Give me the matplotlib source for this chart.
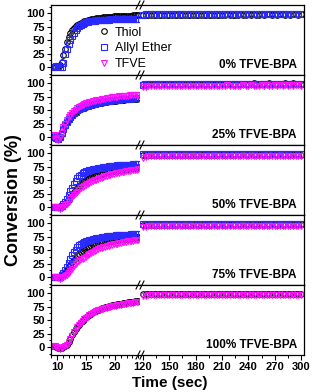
import numpy as np
import matplotlib
matplotlib.use('Agg')
import matplotlib.pyplot as plt
from matplotlib.ticker import MultipleLocator
from matplotlib.lines import Line2D

plt.rcParams['font.family'] = ['Liberation Sans', 'DejaVu Sans']

# time grids (s): early part before the axis break, and the late part after it
t_left = np.round(np.arange(9.3, 24.01, 0.3), 1)
t_right = np.arange(120, 301, 3)

panel_labels = ['0% TFVE-BPA', '25% TFVE-BPA', '50% TFVE-BPA', '75% TFVE-BPA', '100% TFVE-BPA']

# conversion (%), early part
thiol_0 = [0, 0, 0.5, 1, 3, 10, 22, 34, 46, 56,
           63, 69, 73, 76, 78.5, 80.5, 82, 83.5, 85, 86,
           87, 88, 88.8, 89.5, 90, 90.5, 91, 91.5, 92, 92.3,
           92.6, 93, 93.3, 93.5, 93.8, 94, 94.2, 94.4, 94.6, 94.8,
           95, 95.1, 95.3, 95.4, 95.5, 95.7, 95.8, 95.9, 96, 96.1]
allyl_0 = [0, 0.5, 1, 2, 0, -1, 8, 25, 34, 43,
           51, 58, 64, 69, 73, 76, 78.5, 80.5, 82, 83,
           84, 84.8, 85.5, 86, 86.4, 86.8, 87.1, 87.4, 87.6, 87.8,
           88, 88.2, 88.3, 88.5, 88.6, 88.7, 88.8, 88.9, 89, 89.1,
           89.2, 89.3, 89.3, 89.4, 89.4, 89.5, 89.5, 89.5, 89.6, 89.6]

thiol_25 = [0, 1, -2, -4, -1, 6, 15, 21, 27, 32,
            36, 40, 43, 46, 48.5, 50.5, 52, 53.5, 55, 56,
            57, 58, 59, 60, 61, 61.8, 62.5, 63.2, 63.8, 64.4,
            65, 65.5, 66, 66.5, 67, 67.4, 67.8, 68.2, 68.6, 69,
            69.3, 69.6, 69.9, 70.2, 70.5, 70.8, 71, 71.2, 71.4, 71.6]
allyl_25 = [0.5, 1.5, -1.5, -3.5, -0.5, 6.5, 15.5, 22, 28, 33,
            37, 41, 44, 47, 49.5, 51.5, 53, 54.5, 56, 57,
            58, 59, 60, 61, 62, 62.8, 63.5, 64.2, 64.8, 65.4,
            66, 66.5, 67, 67.5, 68, 68.4, 68.8, 69.2, 69.6, 70,
            70.3, 70.6, 70.9, 71.2, 71.5, 71.8, 72, 72.2, 72.4, 72.6]
tfve_25 = [2, 3, -3, -5, -2, 8, 18.5, 25, 31, 37,
           41, 45, 48, 51, 53.5, 55.5, 57.5, 59, 61, 62.5,
           63.5, 64.5, 65.5, 66.5, 67.3, 68, 68.7, 69.3, 70, 70.7,
           71.3, 72, 72.5, 73, 73.5, 74, 74.5, 75, 75.3, 75.7,
           76, 76.4, 76.7, 77, 77.3, 77.6, 77.8, 78, 78.3, 78.5]

thiol_50 = [0, 0, 0, -1, -1, 1, 3, 6, 9, 13,
            18, 22.5, 27, 31, 35, 38.5, 42, 45.5, 48, 50,
            52, 53.5, 55, 56.5, 58, 59, 60, 61, 62, 63,
            63.8, 64.6, 65.3, 66, 66.7, 67.3, 67.9, 68.5, 69, 69.5,
            70, 70.5, 71, 71.4, 71.8, 72.2, 72.6, 73, 73.4, 73.7]
allyl_50 = [0, 0, 0, -1, -1, 2, 6, 10, 15, 22,
            29, 36, 43, 49, 54, 58, 60, 62.5, 64.5, 66,
            67, 68, 69, 70, 70.8, 71.5, 72.2, 72.8, 73.4, 74,
            74.5, 75, 75.4, 75.8, 76.2, 76.6, 76.9, 77.2, 77.5, 77.8,
            78, 78.2, 78.4, 78.6, 78.8, 79, 79.1, 79.2, 79.3, 79.4]
tfve_50 = [0, 0.5, 0, -2, -3, -2, 0, 3, 6, 10,
           14.5, 19, 22.5, 25.5, 28.5, 31.5, 34.5, 36.5, 38.5, 40.5,
           42.5, 44.5, 46.3, 48, 49.5, 50.8, 52, 53.3, 54.5, 55.6,
           56.7, 57.8, 58.8, 59.7, 60.6, 61.5, 62.3, 63.1, 63.8, 64.5,
           65.2, 65.8, 66.4, 67, 67.5, 68, 68.5, 69, 69.4, 69.8]

thiol_75 = [0, 0, 0, -1, 0, 2, 5, 9, 13, 18,
            23, 28, 32, 36, 40, 43.5, 46.5, 49, 51.5, 53.5,
            55, 56.5, 58, 59.3, 60.3, 61.2, 62, 62.8, 63.5, 64.2,
            64.9, 65.6, 66.3, 66.9, 67.4, 67.9, 68.4, 68.9, 69.4, 69.9,
            70.3, 70.7, 71.1, 71.5, 71.9, 72.3, 72.7, 73.1, 73.5, 73.9]
allyl_75 = [0, 0, 0.5, 0, -1, 3, 8, 13, 19, 26,
            33, 40, 46, 51, 55.5, 59, 61, 62.5, 64.5, 66,
            67.3, 68.5, 69.5, 70.5, 71.3, 72, 72.7, 73.3, 73.9, 74.4,
            74.9, 75.4, 75.8, 76.2, 76.6, 77, 77.3, 77.6, 77.9, 78.1,
            78.3, 78.5, 78.7, 78.9, 79, 79.1, 79.2, 79.3, 79.4, 79.5]
tfve_75 = [0, 0.5, 0, -2, -3, -2, 0, 1.5, 3, 7,
           11, 15.5, 20, 24, 27, 30, 32.5, 34, 36, 38,
           40, 42, 44, 46, 48, 50, 51.5, 53, 54.3, 55.5,
           56.6, 57.6, 58.5, 59.3, 60.1, 60.8, 61.5, 62.2, 62.9, 63.6,
           64.3, 65, 65.6, 66.2, 66.7, 67.2, 67.7, 68.2, 68.6, 69]

thiol_100 = [1, 1, 0, -1.5, -2.5, -2, -0.5, 1.5, 4.5, 9.5,
             15.5, 21.5, 27.5, 32.5, 37.5, 41.5, 45.5, 49, 52.5, 55,
             57.5, 60, 62.2, 64.2, 66, 67.8, 69.4, 70.8, 72, 73.2,
             74.2, 75.2, 76, 76.8, 77.6, 78.3, 79, 79.6, 80.2, 80.8,
             81.4, 82, 82.5, 83, 83.5, 84, 84.5, 85, 85.4, 85.8]
tfve_100 = [1, 1.5, 0, -2, -3, -2.5, -1, 1, 4, 9,
            15, 21, 27, 32, 37, 41, 45, 48.5, 51.5, 54,
            56.5, 59, 61, 63, 64.8, 66.5, 68, 69.3, 70.5, 71.5,
            72.5, 73.4, 74.2, 75, 75.7, 76.4, 77, 77.6, 78.2, 78.8,
            79.4, 80, 80.5, 81, 81.5, 82, 82.5, 83, 83.5, 84]

# conversion (%), late part (120-300 s)
thiol_0_r = [96.8, 97.0, 97.2, 96.9, 97.1, 97.3, 97.0, 97.2, 97.4, 97.1,
             97.3, 97.0, 97.2, 97.4, 97.1, 97.3, 97.5, 97.2, 97.4, 97.1,
             97.3, 97.5, 97.2, 97.4, 97.6, 97.3, 97.5, 97.2, 97.4, 97.6,
             97.3, 97.5, 97.7, 97.4, 97.6, 97.3, 97.5, 97.7, 97.4, 97.6,
             97.8, 97.5, 97.7, 97.4, 97.6, 97.8, 97.5, 97.7, 97.9, 97.6,
             97.8, 97.5, 97.7, 97.9, 97.6, 97.8, 97.5, 97.7, 97.9, 97.6,
             97.8]
allyl_0_r = [97.5, 97.9, 98.2, 97.8, 98.1, 98.4, 97.9, 98.2, 97.8, 98.3,
             98.0, 98.4, 97.9, 98.2, 98.5, 98.0, 98.3, 97.9, 98.4, 98.1,
             98.5, 98.0, 98.3, 98.6, 98.1, 98.4, 98.0, 98.5, 98.2, 98.6,
             98.1, 98.4, 98.0, 98.5, 98.2, 98.6, 98.1, 98.4, 98.7, 98.2,
             98.5, 98.1, 98.6, 98.3, 98.7, 98.2, 98.5, 98.1, 98.6, 98.3,
             98.7, 98.2, 98.5, 98.8, 98.3, 98.6, 98.2, 98.7, 98.4, 98.8,
             98.5]

thiol_25_r = [98.0, 98.5, 98.8, 98.3, 98.7, 99.0, 98.5, 98.9, 98.4, 98.8,
              99.1, 98.6, 99.0, 98.5, 98.9, 99.2, 98.7, 99.0, 98.6, 99.1,
              98.8, 99.2, 98.7, 99.0, 99.3, 98.8, 99.1, 98.7, 99.2, 98.9,
              99.3, 98.8, 99.1, 99.4, 98.9, 99.2, 98.8, 99.3, 99.0, 99.4,
              98.9, 99.2, 99.5, 99.0, 99.3, 98.9, 99.4, 99.1, 99.5, 99.0,
              99.3, 98.9, 99.4, 99.1, 99.5, 99.0, 99.3, 99.6, 99.1, 99.4,
              99.2]
allyl_25_r = [97.4, 97.8, 98.1, 97.7, 98.0, 98.3, 97.9, 98.2, 97.8, 98.1,
              98.4, 97.9, 98.2, 98.0, 98.3, 97.9, 98.4, 98.1, 98.5, 98.0,
              98.3, 98.6, 98.1, 98.4, 98.0, 98.5, 98.2, 98.6, 98.1, 98.4,
              98.7, 98.2, 98.5, 98.1, 98.6, 98.3, 98.7, 98.2, 98.5, 98.8,
              98.3, 98.6, 98.2, 98.7, 98.4, 98.8, 98.3, 98.6, 98.2, 98.7,
              98.4, 98.8, 98.3, 98.6, 98.9, 98.4, 98.7, 98.3, 98.8, 98.5,
              98.9]
tfve_25_r = [92.5, 93.8, 94.6, 95.0, 94.8, 95.2, 94.9, 95.3, 95.0, 95.4,
             95.1, 95.5, 94.9, 95.3, 95.6, 95.1, 95.4, 95.0, 95.5, 95.2,
             95.6, 95.1, 95.4, 95.7, 95.2, 95.5, 95.1, 95.6, 95.3, 95.7,
             95.2, 95.5, 95.8, 95.3, 95.6, 95.2, 95.7, 95.4, 95.8, 95.3,
             95.6, 95.9, 95.4, 95.7, 95.3, 95.8, 95.5, 95.9, 95.4, 95.7,
             96.0, 95.5, 95.8, 95.4, 95.9, 95.6, 96.0, 95.5, 95.8, 96.1,
             95.6]

thiol_50_r = [96.6, 97.0, 97.3, 96.9, 97.2, 97.5, 97.0, 97.3, 96.9, 97.4,
              97.1, 97.5, 97.0, 97.3, 97.6, 97.1, 97.4, 97.0, 97.5, 97.2,
              97.6, 97.1, 97.4, 97.7, 97.2, 97.5, 97.1, 97.6, 97.3, 97.7,
              97.2, 97.5, 97.8, 97.3, 97.6, 97.2, 97.7, 97.4, 97.8, 97.3,
              97.6, 97.9, 97.4, 97.7, 97.3, 97.8, 97.5, 97.9, 97.4, 97.7,
              98.0, 97.5, 97.8, 97.4, 97.9, 97.6, 98.0, 97.5, 97.8, 98.1,
              97.6]
allyl_50_r = [97.8, 98.2, 98.5, 98.1, 98.4, 98.7, 98.2, 98.5, 98.1, 98.6,
              98.3, 98.7, 98.2, 98.5, 98.8, 98.3, 98.6, 98.2, 98.7, 98.4,
              98.8, 98.3, 98.6, 98.9, 98.4, 98.7, 98.3, 98.8, 98.5, 98.9,
              98.4, 98.7, 99.0, 98.5, 98.8, 98.4, 98.9, 98.6, 99.0, 98.5,
              98.8, 99.1, 98.6, 98.9, 98.5, 99.0, 98.7, 99.1, 98.6, 98.9,
              99.2, 98.7, 99.0, 98.6, 99.1, 98.8, 99.2, 98.7, 99.0, 99.3,
              98.8]
tfve_50_r = [92.0, 93.4, 94.0, 94.3, 94.0, 94.5, 94.2, 94.6, 94.1, 94.5,
             94.8, 94.3, 94.7, 94.2, 94.6, 94.9, 94.4, 94.8, 94.3, 94.7,
             95.0, 94.5, 94.8, 94.4, 94.9, 94.6, 95.0, 94.5, 94.8, 95.1,
             94.6, 94.9, 94.5, 95.0, 94.7, 95.1, 94.6, 94.9, 95.2, 94.7,
             95.0, 94.6, 95.1, 94.8, 95.2, 94.7, 95.0, 95.3, 94.8, 95.1,
             94.7, 95.2, 94.9, 95.3, 94.8, 95.1, 95.4, 94.9, 95.2, 94.8,
             95.3]

thiol_75_r = [96.8, 97.1, 97.4, 97.0, 97.3, 97.6, 97.1, 97.4, 97.0, 97.5,
              97.2, 97.6, 97.1, 97.4, 97.7, 97.2, 97.5, 97.1, 97.6, 97.3,
              97.7, 97.2, 97.5, 97.8, 97.3, 97.6, 97.2, 97.7, 97.4, 97.8,
              97.3, 97.6, 97.9, 97.4, 97.7, 97.3, 97.8, 97.5, 97.9, 97.4,
              97.7, 98.0, 97.5, 97.8, 97.4, 97.9, 97.6, 98.0, 97.5, 97.8,
              98.1, 97.6, 97.9, 97.5, 98.0, 97.7, 98.1, 97.6, 97.9, 98.2,
              97.7]
allyl_75_r = [97.9, 98.3, 98.6, 98.2, 98.5, 98.8, 98.3, 98.6, 98.2, 98.7,
              98.4, 98.8, 98.3, 98.6, 98.9, 98.4, 98.7, 98.3, 98.8, 98.5,
              98.9, 98.4, 98.7, 99.0, 98.5, 98.8, 98.4, 98.9, 98.6, 99.0,
              98.5, 98.8, 99.1, 98.6, 98.9, 98.5, 99.0, 98.7, 99.1, 98.6,
              98.9, 99.2, 98.7, 99.0, 98.6, 99.1, 98.8, 99.2, 98.7, 99.0,
              99.3, 98.8, 99.1, 98.7, 99.2, 98.9, 99.3, 98.8, 99.1, 99.4,
              98.9]
tfve_75_r = [92.3, 93.6, 94.2, 94.5, 94.2, 94.7, 94.4, 94.8, 94.3, 94.7,
             95.0, 94.5, 94.9, 94.4, 94.8, 95.1, 94.6, 95.0, 94.5, 94.9,
             95.2, 94.7, 95.0, 94.6, 95.1, 94.8, 95.2, 94.7, 95.0, 95.3,
             94.8, 95.1, 94.7, 95.2, 94.9, 95.3, 94.8, 95.1, 95.4, 94.9,
             95.2, 94.8, 95.3, 95.0, 95.4, 94.9, 95.2, 95.5, 95.0, 95.3,
             94.9, 95.4, 95.1, 95.5, 95.0, 95.3, 95.6, 95.1, 95.4, 95.0,
             95.5]

thiol_100_r = [97.8, 98.3, 98.6, 98.2, 98.5, 98.8, 98.3, 98.7, 98.2, 98.6,
               98.9, 98.4, 98.8, 98.3, 98.7, 99.0, 98.5, 98.8, 98.4, 98.9,
               98.6, 99.0, 98.5, 98.8, 99.1, 98.6, 98.9, 98.5, 99.0, 98.7,
               99.1, 98.6, 98.9, 99.2, 98.7, 99.0, 98.6, 99.1, 98.8, 99.2,
               98.7, 99.0, 99.3, 98.8, 99.1, 98.7, 99.2, 98.9, 99.3, 98.8,
               99.1, 98.7, 99.2, 98.9, 99.3, 98.8, 99.1, 99.4, 98.9, 99.2,
               99.0]
tfve_100_r = [94.0, 95.3, 96.0, 96.3, 96.0, 96.5, 96.2, 96.6, 96.1, 96.5,
              96.8, 96.3, 96.7, 96.2, 96.6, 96.9, 96.4, 96.8, 96.3, 96.7,
              97.0, 96.5, 96.8, 96.4, 96.9, 96.6, 97.0, 96.5, 96.8, 97.1,
              96.6, 96.9, 96.5, 97.0, 96.7, 97.1, 96.6, 96.9, 97.2, 96.7,
              97.0, 96.6, 97.1, 96.8, 97.2, 96.7, 97.0, 97.3, 96.8, 97.1,
              96.7, 97.2, 96.9, 97.3, 96.8, 97.1, 97.4, 96.9, 97.2, 96.8,
              97.3]

panels = [
    {'thiol': (thiol_0, thiol_0_r), 'allyl': (allyl_0, allyl_0_r)},
    {'thiol': (thiol_25, thiol_25_r), 'allyl': (allyl_25, allyl_25_r), 'tfve': (tfve_25, tfve_25_r)},
    {'thiol': (thiol_50, thiol_50_r), 'allyl': (allyl_50, allyl_50_r), 'tfve': (tfve_50, tfve_50_r)},
    {'thiol': (thiol_75, thiol_75_r), 'allyl': (allyl_75, allyl_75_r), 'tfve': (tfve_75, tfve_75_r)},
    {'thiol': (thiol_100, thiol_100_r), 'tfve': (tfve_100, tfve_100_r)},
]

styles = {
    'thiol': dict(marker='o', color='black', label='Thiol'),
    'allyl': dict(marker='s', color='#2a2aff', label='Allyl Ether'),
    'tfve': dict(marker='v', color='#ff10ff', label='TFVE'),
}

W, H = 317, 392
fig = plt.figure(figsize=(W / 100, H / 100), dpi=100)


def fx(px):
    return px / W


def fy(py):
    return 1 - py / H


x_left, x_break, x_right = 51, 140, 304
top0, ph = 5, 70

for i, data in enumerate(panels):
    top = top0 + ph * i
    axl = fig.add_axes([fx(x_left), fy(top + ph), fx(x_break - x_left), ph / H])
    axr = fig.add_axes([fx(x_break), fy(top + ph), fx(x_right - x_break), ph / H])

    for key in ['thiol', 'allyl', 'tfve']:
        if key not in data:
            continue
        st = styles[key]
        yl, yr = data[key]
        for ax, t, y in [(axl, t_left, yl), (axr, t_right, yr)]:
            ax.plot(t, y, ls='none', marker=st['marker'], mfc='none', mec=st['color'],
                    ms=4, mew=0.8)

    axl.set_xlim(8.97, 24.3)
    axr.set_xlim(116.6, 303.4)
    for ax in (axl, axr):
        ax.set_ylim(-15, 115.3)
        for s in ax.spines.values():
            s.set_linewidth(0.9)
    axl.spines['right'].set_visible(False)
    axr.spines['left'].set_visible(False)

    axl.set_yticks([0, 25, 50, 75, 100])
    axl.yaxis.set_minor_locator(MultipleLocator(12.5))
    axl.tick_params(axis='y', which='major', direction='out', length=3, width=0.8, pad=1.5,
                    labelsize=8)
    axl.tick_params(axis='y', which='minor', direction='out', length=1.8, width=0.7)
    for lab in axl.get_yticklabels():
        lab.set_fontweight('bold')
    axr.tick_params(axis='y', left=False, right=False, labelleft=False)

    axl.set_xticks([10, 15, 20])
    axl.xaxis.set_minor_locator(MultipleLocator(1))
    axr.set_xticks([120, 150, 180, 210, 240, 270, 300])
    axr.xaxis.set_minor_locator(MultipleLocator(15))
    last = i == len(panels) - 1
    for ax in (axl, axr):
        if last:
            ax.tick_params(axis='x', which='major', direction='out', length=3.5, width=0.8,
                           pad=1.5, labelsize=8)
            ax.tick_params(axis='x', which='minor', direction='out', length=2, width=0.7)
            for lab in ax.get_xticklabels():
                lab.set_fontweight('bold')
        else:
            ax.tick_params(axis='x', which='both', bottom=False, labelbottom=False)

    axr.text(0.957, 0.14, panel_labels[i], transform=axr.transAxes, ha='right', va='center',
             fontsize=8.5, fontweight='bold')

# axis-break marks on every panel boundary
for yb in [top0 + ph * k for k in range(len(panels) + 1)]:
    for off in (-2.0, 2.0):
        fig.add_artist(Line2D([fx(x_break + off - 2), fx(x_break + off + 2)],
                              [fy(yb + 4), fy(yb - 4)], color='black', lw=0.8,
                              transform=fig.transFigure))

handles = [Line2D([], [], ls='none', marker=styles[k]['marker'], mfc='none',
                  mec=styles[k]['color'], ms=4, mew=0.8) for k in ['thiol', 'allyl', 'tfve']]
fig.legend(handles, [styles[k]['label'] for k in ['thiol', 'allyl', 'tfve']],
           loc='center left', bbox_to_anchor=(fx(97.5), fy(48.5)), frameon=False,
           fontsize=9, handlelength=1.0, handletextpad=0.4, labelspacing=0.3,
           borderpad=0, borderaxespad=0, numpoints=1)

fig.text(fx(14), fy(200), 'Conversion (%)', rotation=90, ha='center', va='center',
         fontsize=13, fontweight='bold')
fig.text(fx(170), fy(383), 'Time (sec)', ha='center', va='center',
         fontsize=11, fontweight='bold')

fig.savefig('out.png', dpi=100)
